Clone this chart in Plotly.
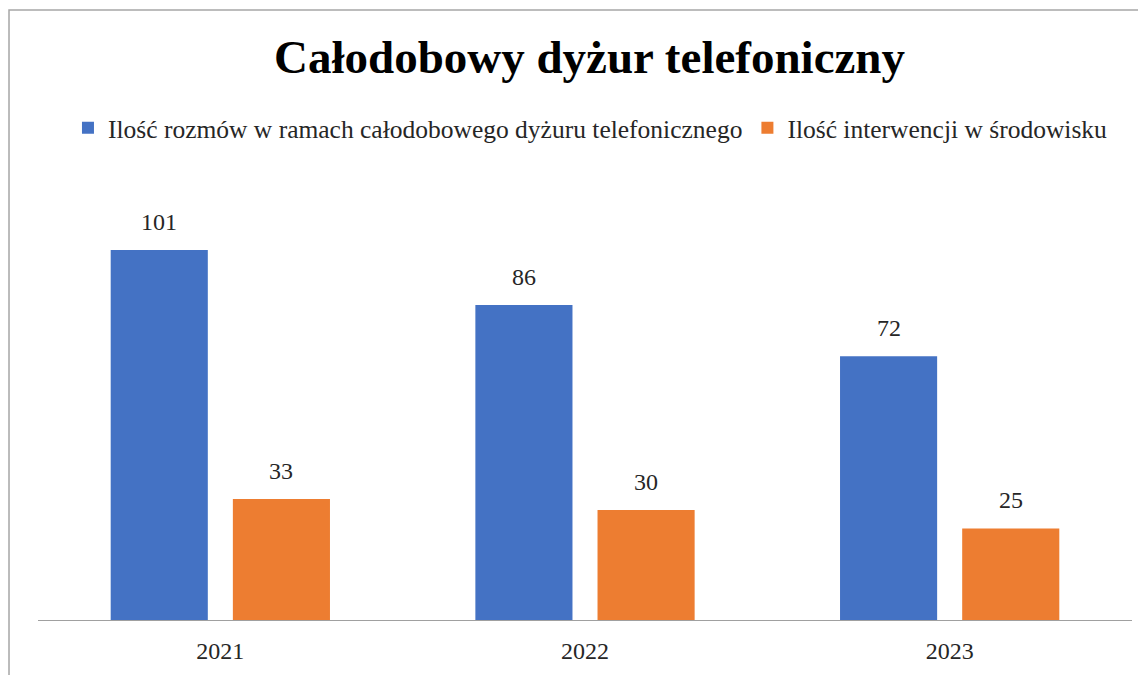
import plotly.graph_objects as go

# dane z wykresu
years = ["2021", "2022", "2023"]
rozmowy = [101, 86, 72]
interwencje = [33, 30, 25]
series_names = ["Ilość rozmów w ramach całodobowego dyżuru telefonicznego",
                "Ilość interwencji w środowisku"]
colors = ["#4472C4", "#ED7D31"]

font_family = "Liberation Serif, Times New Roman, serif"

fig = go.Figure()
for name, vals, col in zip(series_names, [rozmowy, interwencje], colors):
    fig.add_trace(go.Bar(x=years, y=vals, name=name, marker_color=col,
                         marker_line_width=0))

# etykiety danych nad slupkami (x jako indeks kategorii)
for i, vals in enumerate([rozmowy, interwencje]):
    shift = -61 if i == 0 else 61
    for j, v in enumerate(vals):
        fig.add_annotation(x=j, y=v, text=str(v), showarrow=False,
                           xshift=shift, yshift=13, yanchor="bottom",
                           font=dict(size=24, color="#262626", family=font_family))

# ramka wykresu
fig.add_shape(type="rect", xref="paper", yref="paper",
              x0=-0.0265, x1=1.03, y0=-0.2, y1=1.3407,
              line=dict(color="#a6a6a6", width=1.5))

# strona ma 8px marginesu, wiec figura jest mniejsza o 8px
fig.update_layout(
    width=1138, height=667,
    margin=dict(l=30, r=14, t=157, b=55),
    paper_bgcolor="white", plot_bgcolor="white",
    barmode="group", bargap=0.33, bargroupgap=0.205,
    title=dict(text="<b>Całodobowy dyżur telefoniczny</b>", x=0.511, xanchor="center",
               y=0.9265, yanchor="middle",
               font=dict(size=47, color="black", family=font_family)),
    legend=dict(orientation="h", x=0.505, xanchor="center", y=1.081, yanchor="middle",
                bgcolor="rgba(0,0,0,0)",
                font=dict(size=25.5, color="#262626", family=font_family),
                itemwidth=30, traceorder="normal"),
    xaxis=dict(type="category", range=[-0.5, 2.5], showline=True, linecolor="#a0a0a0",
               linewidth=1, ticks="", ticklabelstandoff=9,
               tickfont=dict(size=24, color="#262626", family=font_family),
               showgrid=False, zeroline=False),
    yaxis=dict(visible=False, range=[0, 124.2], showgrid=False, zeroline=False),
)

fig.write_html("out.html")
